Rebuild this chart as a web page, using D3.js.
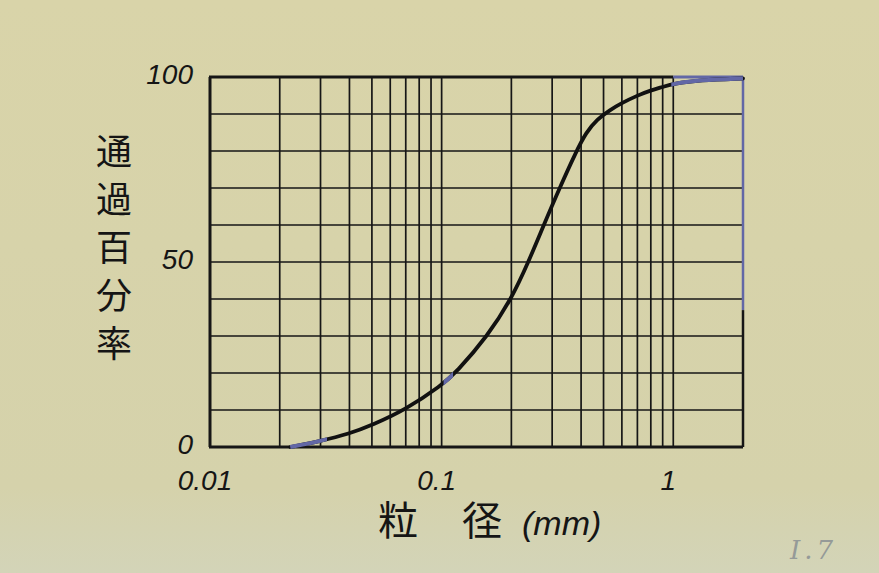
<!DOCTYPE html>
<html>
<head>
<meta charset="utf-8">
<script src="https://cdn.jsdelivr.net/npm/d3@7"></script>
<style>
  body { margin: 0; background: #d6d3ac; }
  svg { display: block; }
</style>
</head>
<body>
<svg id="chart"></svg>
<script>
// grain size (mm) and percent passing
var sizes   = [0.0222, 0.03, 0.04, 0.05, 0.07, 0.1, 0.115, 0.158, 0.2, 0.237, 0.276, 0.323, 0.382, 0.42, 0.47, 0.53, 0.6, 0.7, 0.8, 0.9, 1.0, 1.3, 2.0];
var passing = [0,      1.6,  3.6,  5.9,  10.1, 16.7, 20,   30,    40,  50,    60,    70,    80,    85,   88.6, 91,   93,  95,  96.4, 97.3, 98.2, 99.2, 99.6];

var xTickVals = [0.01, 0.1, 1];
var xTickText = ["0.01", "0.1", "1"];
var yTickVals = [0, 50, 100];
// pieces of the line that were traced over in blue pencil
var blueRanges = [[0.0222, 0.032], [0.104, 0.112], [1.0, 2.0]];

var W = 879, H = 573;
var margin = { top: 77, right: 136, bottom: 126, left: 210 },
    width = W - margin.left - margin.right,
    height = H - margin.top - margin.bottom;

var ink = "#161616", blue = "#6267a6";

var svg = d3.select("#chart").attr("width", W).attr("height", H);

// paper
var grad = svg.append("defs").append("linearGradient")
    .attr("id", "paper").attr("x1", 0).attr("y1", 0).attr("x2", 0).attr("y2", 1);
grad.append("stop").attr("offset", "0%").attr("stop-color", "#d9d4a9");
grad.append("stop").attr("offset", "85%").attr("stop-color", "#d5d2ab");
grad.append("stop").attr("offset", "100%").attr("stop-color", "#d3d4b8");
svg.append("rect").attr("width", W).attr("height", H).attr("fill", "url(#paper)");

var g = svg.append("g")
    .attr("transform", "translate(" + margin.left + "," + margin.top + ")");

var x = d3.scaleLog().domain([0.01, 2]).range([0, width]);
var y = d3.scaleLinear().domain([0, 100]).range([height, 0]);

// vertical grid: 0.01 ... 1
g.append("g")
    .selectAll("line")
    .data(x.ticks().filter(function (d) { return d > 0.01 && d <= 1.0001; }))
    .join("line")
    .attr("x1", function (d) { return x(d); })
    .attr("x2", function (d) { return x(d); })
    .attr("y1", 0).attr("y2", height)
    .attr("stroke", ink).attr("stroke-width", 1.7);

// horizontal grid every 10 %
g.append("g")
    .selectAll("line")
    .data(y.ticks(10).filter(function (d) { return d > 0 && d < 100; }))
    .join("line")
    .attr("x1", 0).attr("x2", width)
    .attr("y1", function (d) { return y(d); })
    .attr("y2", function (d) { return y(d); })
    .attr("stroke", ink).attr("stroke-width", 1.6);

// frame
g.append("line").attr("x1", 0).attr("x2", 0).attr("y1", y(100)).attr("y2", y(0))
    .attr("stroke", ink).attr("stroke-width", 3);
g.append("line").attr("x1", -1).attr("x2", width).attr("y1", y(0)).attr("y2", y(0))
    .attr("stroke", ink).attr("stroke-width", 3);
g.append("line").attr("x1", -1).attr("x2", x(1)).attr("y1", y(100)).attr("y2", y(100))
    .attr("stroke", ink).attr("stroke-width", 3);
g.append("line").attr("x1", x(1)).attr("x2", x(2)).attr("y1", y(100)).attr("y2", y(100))
    .attr("stroke", blue).attr("stroke-width", 3);
g.append("line").attr("x1", x(2)).attr("x2", x(2)).attr("y1", y(100)).attr("y2", y(37))
    .attr("stroke", blue).attr("stroke-width", 2.5);
g.append("line").attr("x1", x(2)).attr("x2", x(2)).attr("y1", y(37)).attr("y2", y(0))
    .attr("stroke", ink).attr("stroke-width", 2.5);

// the grading curve
var pts = sizes.map(function (s, i) { return [s, passing[i]]; });
var line = d3.line()
    .x(function (d) { return x(d[0]); })
    .y(function (d) { return y(d[1]); })
    .curve(d3.curveBasis);

g.append("path").datum(pts)
    .attr("d", line)
    .attr("fill", "none")
    .attr("stroke", "#111")
    .attr("stroke-width", 3.8)
    .attr("stroke-linecap", "round");

// blue overlays, clipped to x ranges
var defs = svg.select("defs");
blueRanges.forEach(function (r, i) {
    defs.append("clipPath").attr("id", "clip" + i)
        .append("rect")
        .attr("x", x(r[0]) - 2).attr("y", -10)
        .attr("width", x(r[1]) - x(r[0]) + 2)
        .attr("height", height + 20);
    g.append("path").datum(pts)
        .attr("d", line)
        .attr("clip-path", "url(#clip" + i + ")")
        .attr("fill", "none")
        .attr("stroke", blue)
        .attr("stroke-width", 4);
});

// tick labels
var numFont = "'Liberation Sans', 'DejaVu Sans', sans-serif";
g.append("g")
    .selectAll("text")
    .data(yTickVals)
    .join("text")
    .attr("x", -17)
    .attr("y", function (d) { return y(d) + 7; })
    .attr("text-anchor", "end")
    .attr("font-family", numFont)
    .attr("font-style", "italic")
    .attr("font-size", 28)
    .attr("fill", "#151515")
    .text(function (d) { return d; });

g.append("g")
    .selectAll("text")
    .data(xTickVals)
    .join("text")
    .attr("x", function (d) { return x(d) - 5; })
    .attr("y", height + 43)
    .attr("text-anchor", "middle")
    .attr("font-family", numFont)
    .attr("font-style", "italic")
    .attr("font-size", 28)
    .attr("fill", "#151515")
    .text(function (d, i) { return xTickText[i]; });

// axis titles
var cjk = "'Noto Sans CJK JP', 'Noto Sans CJK SC', sans-serif";
svg.append("g")
    .selectAll("text")
    .data("通過百分率".split(""))
    .join("text")
    .attr("x", 114)
    .attr("y", function (d, i) { return 165 + i * 48; })
    .attr("text-anchor", "middle")
    .attr("font-family", cjk)
    .attr("font-size", 36)
    .attr("fill", "#151515")
    .text(function (d) { return d; });

var xt = svg.append("text")
    .attr("x", 378).attr("y", 535)
    .attr("font-family", cjk)
    .attr("font-size", 40)
    .attr("fill", "#151515");
xt.append("tspan").text("粒");
xt.append("tspan").attr("dx", 44).text("径");
xt.append("tspan").attr("dx", 20).attr("font-family", numFont)
    .attr("font-style", "italic").attr("font-size", 34).text("(mm)");

svg.append("text")
    .attr("x", 790).attr("y", 559)
    .attr("font-family", "'DejaVu Serif', serif")
    .attr("font-style", "italic")
    .attr("font-size", 26)
    .attr("letter-spacing", 4)
    .attr("fill", "#959a98")
    .text("I.7");
</script>
</body>
</html>
